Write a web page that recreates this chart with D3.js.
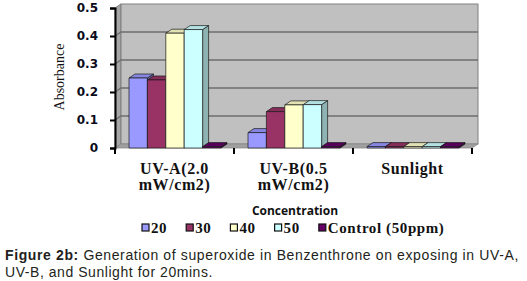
<!DOCTYPE html>
<html>
<head>
<meta charset="utf-8">
<script src="https://cdn.jsdelivr.net/npm/d3@7"></script>
<style>
  body { margin: 0; background: #fff; }
  svg { display: block; }
</style>
</head>
<body>
<div id="chart"></div>
<script>
const categories = ["UV-A(2.0 mW/cm2)", "UV-B(0.5 mW/cm2)", "Sunlight"];
const categoryLines = [["UV-A(2.0", "mW/cm2)"], ["UV-B(0.5", "mW/cm2)"], ["Sunlight"]];
const seriesNames = ["20", "30", "40", "50", "Control (50ppm)"];
const seriesColors = ["#9999ff", "#993366", "#ffffcc", "#ccffff", "#660066"];
const values20 = [0.25, 0.055, 0.005];
const values30 = [0.243, 0.13, 0.005];
const values40 = [0.41, 0.154, 0.005];
const values50 = [0.423, 0.155, 0.005];
const valuesControl = [0.005, 0.005, 0.005];
const yTicks = [0, 0.1, 0.2, 0.3, 0.4, 0.5];

const seriesValues = [values20, values30, values40, values50, valuesControl];

function renderChart(selector) {
    const W = 527, H = 281;
    const left = 115, right = 472, top = 8, bottom = 148;
    const dx = 6, dy = -4;

    const svg = d3.select(selector).append("svg")
        .attr("width", W)
        .attr("height", H);

    const y = d3.scaleLinear().domain([0, 0.5]).range([bottom, top]);
    const x0 = d3.scaleBand().domain(categories).range([left, right]);
    const x1 = d3.scaleBand().domain(seriesNames).range([14, 106]);

    // back wall, side wall, floor
    svg.append("polygon")
        .attr("points", [[left, top], [left + dx, top + dy], [left + dx, bottom + dy], [left, bottom]].join(" "))
        .attr("fill", "#a6a6a6")
        .attr("stroke", "#808080");
    svg.append("rect")
        .attr("x", left + dx).attr("y", top + dy)
        .attr("width", right - left).attr("height", bottom - top)
        .attr("fill", "#c0c0c0")
        .attr("stroke", "#808080");
    svg.append("polygon")
        .attr("points", [[left, bottom], [right, bottom], [right + dx, bottom + dy], [left + dx, bottom + dy]].join(" "))
        .attr("fill", "#a0a0a0")
        .attr("stroke", "#8c8c8c")
        .attr("stroke-width", 0.8);

    // gridlines on wall
    yTicks.filter(t => t > 0 && t < 0.5).forEach(t => {
        svg.append("polyline")
            .attr("points", [[left, y(t)], [left + dx, y(t) + dy], [right + dx, y(t) + dy]].join(" "))
            .attr("fill", "none")
            .attr("stroke", "#6e6e6e")
            .attr("stroke-width", 1.5);
    });

    // bars
    const bars = [];
    seriesNames.forEach((s, i) => {
        categories.forEach((c, j) => {
            bars.push({series: s, color: seriesColors[i], cat: c, value: seriesValues[i][j]});
        });
    });

    const g = svg.append("g");
    bars.forEach(d => {
        const bx = x0(d.cat) + x1(d.series);
        const bw = x1.bandwidth();
        const by = y(d.value);
        const b0 = y(0);
        const col = d3.color(d.color);
        const bar = g.append("g")
            .attr("stroke", "#1a1a1a")
            .attr("stroke-width", 0.7)
            .attr("stroke-linejoin", "round");
        bar.append("polygon")
            .attr("points", [[bx + bw, by], [bx + bw + dx, by + dy], [bx + bw + dx, b0 + dy], [bx + bw, b0]].join(" "))
            .attr("fill", col.darker(1));
        bar.append("polygon")
            .attr("points", [[bx, by], [bx + dx, by + dy], [bx + bw + dx, by + dy], [bx + bw, by]].join(" "))
            .attr("fill", col.darker(0.35));
        bar.append("rect")
            .attr("x", bx).attr("y", by)
            .attr("width", bw).attr("height", b0 - by)
            .attr("fill", d.color);
    });

    // y axis
    const yAxis = svg.append("g")
        .attr("transform", `translate(${left},0)`)
        .call(d3.axisLeft(y).tickValues(yTicks).tickSize(5).tickPadding(12)
            .tickFormat(d => d === 0 ? "0" : d3.format(".1f")(d)));
    yAxis.select(".domain").attr("stroke", "#000").attr("stroke-width", 2);
    yAxis.selectAll(".tick line").attr("stroke", "#000").attr("stroke-width", 2);
    yAxis.selectAll(".tick text")
        .attr("font-family", "DejaVu Sans")
        .attr("font-weight", "bold")
        .attr("font-size", 12)
        .attr("fill", "#0a0a1a");

    // x ticks at category boundaries
    const bounds = categories.map(c => x0(c)).concat([x0.range()[1]]);
    svg.selectAll(".xtick")
        .data(bounds)
        .enter()
        .append("line")
        .attr("class", "xtick")
        .attr("x1", d => d).attr("x2", d => d)
        .attr("y1", bottom).attr("y2", bottom + 6)
        .attr("stroke", "#000")
        .attr("stroke-width", 2);

    // category labels
    categories.forEach((c, j) => {
        const t = svg.append("text")
            .attr("x", x0(c) + x0.bandwidth() / 2)
            .attr("y", 174)
            .attr("text-anchor", "middle")
            .attr("font-family", "Liberation Serif")
            .attr("font-weight", "bold")
            .attr("font-size", 16)
            .attr("letter-spacing", 0.6)
            .attr("fill", "#111");
        categoryLines[j].forEach((line, k) => {
            t.append("tspan")
                .attr("x", x0(c) + x0.bandwidth() / 2)
                .attr("dy", k === 0 ? 0 : 16)
                .text(line);
        });
    });

    // y axis title
    svg.append("text")
        .attr("transform", `translate(64,77) rotate(-90)`)
        .attr("text-anchor", "middle")
        .attr("font-family", "Liberation Serif")
        .attr("font-size", 14)
        .attr("fill", "#111")
        .text("Absorbance");

    // x axis title
    svg.append("text")
        .attr("x", 295)
        .attr("y", 215)
        .attr("text-anchor", "middle")
        .attr("font-family", "Open Sans")
        .attr("font-weight", "bold")
        .attr("font-size", 12)
        .attr("fill", "#111")
        .text("Concentration");

    // legend
    const legend = svg.append("g");
    let lx = 142;
    seriesNames.forEach((s, i) => {
        legend.append("rect")
            .attr("x", lx).attr("y", 224)
            .attr("width", 7).attr("height", 7)
            .attr("fill", seriesColors[i])
            .attr("stroke", "#111")
            .attr("stroke-width", 1.2);
        const t = legend.append("text")
            .attr("x", lx + 9)
            .attr("y", 233)
            .attr("font-family", "Liberation Serif")
            .attr("font-weight", "bold")
            .attr("font-size", 15)
            .attr("letter-spacing", 0.6)
            .attr("fill", "#111")
            .text(s);
        lx += 9 + t.node().getComputedTextLength() + 19;
    });

    // caption
    const cap1 = svg.append("text")
        .attr("x", 5).attr("y", 260)
        .attr("font-family", "Liberation Sans")
        .attr("font-size", 14)
        .attr("letter-spacing", 0.62)
        .attr("fill", "#231f20");
    cap1.append("tspan").attr("font-weight", "bold").text("Figure 2b:");
    cap1.append("tspan").text(" Generation of superoxide in Benzenthrone on exposing in UV-A,");
    svg.append("text")
        .attr("x", 5).attr("y", 277)
        .attr("font-family", "Liberation Sans")
        .attr("font-size", 14)
        .attr("letter-spacing", 0.55)
        .attr("fill", "#231f20")
        .text("UV-B, and Sunlight for 20mins.");
}

renderChart("#chart");
</script>
</body>
</html>
